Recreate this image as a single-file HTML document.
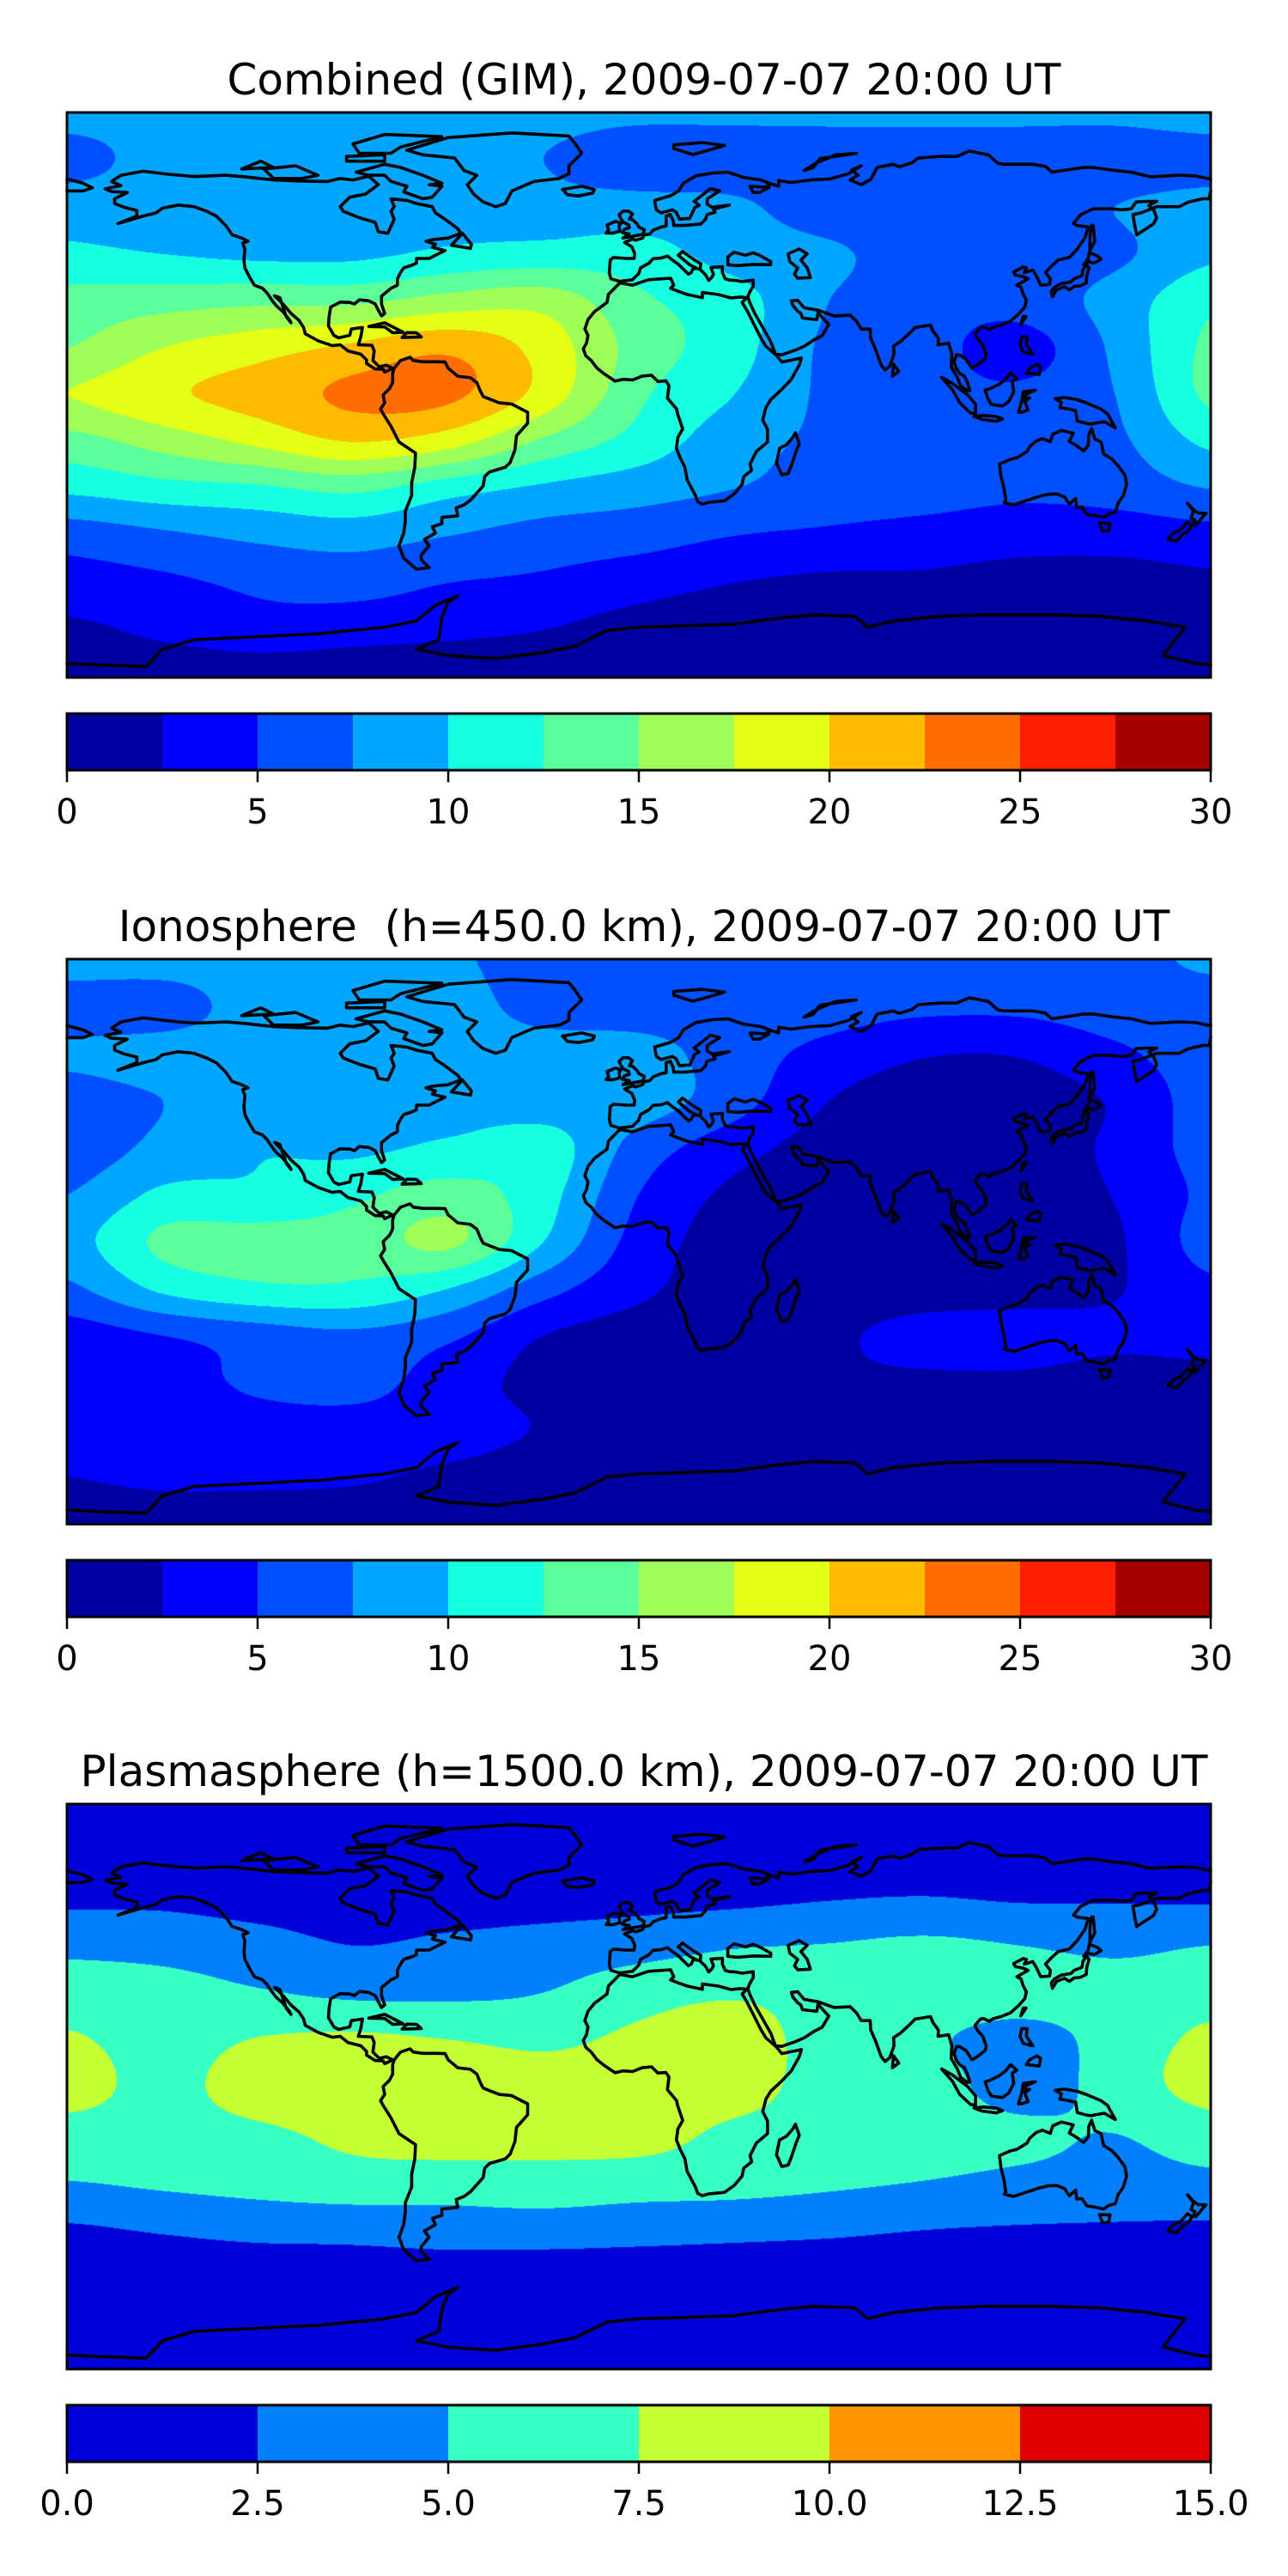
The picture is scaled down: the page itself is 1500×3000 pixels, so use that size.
<!DOCTYPE html>
<html><head><meta charset="utf-8">
<style>
html,body{margin:0;padding:0;background:#fff;}
body{width:1500px;height:3000px;position:relative;overflow:hidden;font-family:"DejaVu Sans","Liberation Sans",sans-serif;}
.title{position:absolute;left:0;width:1500px;text-align:center;font-size:50px;line-height:1;color:#000;white-space:pre;}
canvas{position:absolute;}
svg{position:absolute;left:0;top:0;}
</style></head>
<body>
<div class="title" style="top:68px">Combined (GIM), 2009-07-07 20:00 UT</div>
<div class="title" style="top:1054px">Ionosphere  (h=450.0 km), 2009-07-07 20:00 UT</div>
<div class="title" style="top:2038px">Plasmasphere (h=1500.0 km), 2009-07-07 20:00 UT</div>
<canvas id="c0" width="1332" height="658" style="left:78px;top:131px"></canvas>
<canvas id="c1" width="1332" height="658" style="left:78px;top:1117px"></canvas>
<canvas id="c2" width="1332" height="658" style="left:78px;top:2101px"></canvas>
<svg id="ov" width="1500" height="3000"></svg>
<script>
const lonGrid=[-180,-150,-120,-90,-60,-30,0,30,60,90,120,150,180];
const latGrid=[90,75,60,45,30,15,0,-15,-30,-45,-60,-75,-90];
const combinedValues=[
[8.5,8.5,8.5,8.5,8.5,8.3,8,8,8,8,8,8,8.5],
[6.5,8.5,8.5,8.5,8.5,7.5,6,6,6,6,6,6,6.5],
[9,9,9,9,9,8.5,8.5,8,6,5.5,6,7.5,8.5],
[10.5,10,9.5,9.5,10.5,11,11,9,8,6,6,7,9.5],
[13.5,14,14.5,14.5,16,16.5,13,11,7.5,6,6,8.5,12],
[15,17.5,19,20.5,22,19,14,11,7,6,4,8,13],
[17.5,19.5,21,23,23,19,13,10,7,6,5.5,7.5,13],
[14,16,18,20,18.5,14.5,11.5,8.5,7,6,6,7,10.5],
[10.5,11.5,12,13,11,9.5,8.5,7.5,6.5,6,5.5,6,7.5],
[6,7,8,8.5,7.5,6.5,6,5,4.5,4,3.5,3.5,4],
[4,4.5,5.5,6,5,4.5,3.5,2.5,2,2,1.5,1.5,2],
[2,3,4,3.5,3,2.5,1.5,1,1,1,1,1,1],
[1,1,1,1,1,1,1,1,1,1,1,1,1]];
const ionoValues=[
[8.7,8.7,8.7,8.7,8,6.2,6.2,6.2,6.2,6.2,6.2,6.5,8],
[6.2,6.2,8.7,8.7,8.7,6.5,6.2,6.2,6,5.5,5.5,6.2,6.2],
[8,8.7,8.7,8.7,8.7,8.7,8.5,6.2,4.2,2.7,2.7,4.5,6.2],
[6.2,7.5,8.7,8.7,8.7,8.7,8.7,6,2.5,1.2,1.2,2.8,6.2],
[6,8.2,9.8,9.5,10.5,11.2,6.5,3.5,1.5,1.2,1.2,3,6],
[7.5,10.5,10.5,12,13.5,11,5,2,1.2,1.2,1.5,2.6,5.5],
[9,13,13.5,13.5,15.5,10,4,1.5,1.2,1.2,1.5,2.2,6],
[7,10.5,12,12,10,6,3,1.5,1.2,1.2,1.5,2.3,4.5],
[3.8,5,6.2,7,5.5,2.5,1.5,1.3,2,3.5,3.7,3,3.7],
[3.7,3.8,5.5,6,3.7,1.8,1.5,1.3,2,2,2,1.5,1.5],
[3.5,3.7,3.8,3.8,3.7,2.3,1.2,1.2,1.2,1.2,1.2,1.2,1.2],
[2.5,3,3,2.8,2,1.2,1.2,1.2,1.2,1.2,1.2,1.2,1.2],
[1.2,1.2,1.2,1.2,1.2,1.2,1.2,1.2,1.2,1.2,1.2,1.2,1.2]];
const plasmaValues=[
[1.2,1.2,1.2,1.2,1.2,1.2,1.2,1.2,1.2,1.2,1.2,1.2,1.2],
[1.2,1.2,1.2,1.2,1.2,1.2,1.2,1.2,1.2,1.2,1.2,1.2,1.2],
[2,2,1.5,1.2,1.3,1.5,1.8,2,2.4,2.6,2.3,2.3,2.2],
[4.5,4.2,3.5,2.5,3,3.5,4,4.8,5.1,5.5,5,4.5,5],
[6,5.8,5.2,4.5,4.5,5,6.5,7.2,6.5,6.5,6.2,6,6.5],
[7.8,6.5,7.6,8,7.5,7,8,8.5,6.5,5.5,4,6,8],
[8.5,6.8,8.8,9.9,9.6,8.7,8.8,8.5,6.5,6.2,4,6,8.5],
[6.5,6.5,7,8.2,9,8.5,8.5,7,6.5,6.2,5.5,5,6.2],
[5,5.5,6,6.5,6.2,6.5,6.2,6,5.5,5,4.5,4.2,4.5],
[2.3,2.8,3.3,3.5,3.9,3.9,3.6,3.3,3,2.6,2.4,2.3,2.2],
[1.2,1.2,1.2,1.2,1.2,1.2,1.2,1.2,1.2,1.2,1.2,1.2,1.2],
[1.2,1.2,1.2,1.2,1.2,1.2,1.2,1.2,1.2,1.2,1.2,1.2,1.2],
[1.2,1.2,1.2,1.2,1.2,1.2,1.2,1.2,1.2,1.2,1.2,1.2,1.2]];
const jetColors=["#0000a0","#0000ff","#0050ff","#00a6ff","#16ffe1","#5aff9c","#a0ff57","#e4ff13","#fdbb00","#ff6c00","#ff1e00","#a70000"];
const plasmaColors=["#0000d8","#0080ff","#38ffc4","#c4ff33","#ff9400","#dd0000"];
const jetTicks=["0","5","10","15","20","25","30"];
const plasmaTicks=["0.0","2.5","5.0","7.5","10.0","12.5","15.0"];

const MAP_L=78,MAP_W=1332,MAP_H=658;
const maps=[
 {canvas:"c0",top:131,values:combinedValues,colors:jetColors,vmax:30,ticks:jetTicks,name:"combined"},
 {canvas:"c1",top:1117,values:ionoValues,colors:jetColors,vmax:30,ticks:jetTicks,name:"ionosphere"},
 {canvas:"c2",top:2101,values:plasmaValues,colors:plasmaColors,vmax:15,ticks:plasmaTicks,name:"plasmasphere"}];

function cr(p0,p1,p2,p3,t){return 0.5*((2*p1)+(-p0+p2)*t+(2*p0-5*p1+4*p2-p3)*t*t+(-p0+3*p1-3*p2+p3)*t*t*t);}
function interpRow(row,u){const n=row.length;let i=Math.floor(u);if(i>=n-1)i=n-2;const t=u-i;
 const g=k=>row[Math.max(0,Math.min(n-1,k))];return cr(g(i-1),g(i),g(i+1),g(i+2),t);}
function hexRGB(h){return [parseInt(h.substr(1,2),16),parseInt(h.substr(3,2),16),parseInt(h.substr(5,2),16)];}
maps.forEach(m=>{
 const cv=document.getElementById(m.canvas),ctx=cv.getContext('2d');
 const img=ctx.createImageData(MAP_W,MAP_H);const d=img.data;
 const nLon=lonGrid.length,nLat=latGrid.length;
 const rows=m.values.map(r=>{const a=new Float32Array(MAP_W);for(let x=0;x<MAP_W;x++){a[x]=interpRow(r,x/(MAP_W-1)*(nLon-1));}return a;});
 const cols=m.colors.map(hexRGB);const nb=cols.length,step=m.vmax/nb;
 for(let y=0;y<MAP_H;y++){const v=y/(MAP_H-1)*(nLat-1);let i=Math.floor(v);if(i>=nLat-1)i=nLat-2;const t=v-i;
  const r0=rows[Math.max(0,i-1)],r1=rows[i],r2=rows[i+1],r3=rows[Math.min(nLat-1,i+2)];
  for(let x=0;x<MAP_W;x++){const val=cr(r0[x],r1[x],r2[x],r3[x],t);let b=Math.floor(val/step);if(b<0)b=0;if(b>nb-1)b=nb-1;
   const c=cols[b],o=(y*MAP_W+x)*4;d[o]=c[0];d[o+1]=c[1];d[o+2]=c[2];d[o+3]=255;}}
 ctx.putImageData(img,0,0);
});

const coasts={
"north-america":[[-166,68],[-163,70],[-156,71.3],[-148,70.3],[-140,69.6],[-130,70],[-124,69.5],[-115,68.5],[-108,68.2],[-98,68],[-94,69],[-90,68.5],[-85,69.7],[-82,67],[-86,64],[-91,63],[-94,60],[-93,58.5],[-88,56.5],[-83,55],[-82,52],[-79,51.5],[-77,56],[-78,58.5],[-77,60],[-78,62.5],[-73,62],[-70,61],[-65,60],[-64,58],[-61,56],[-57,53],[-56,51.5],[-60,50],[-65,49.5],[-67,49],[-64,48],[-65,47],[-61,46],[-64,44.5],[-66,43.5],[-70,43.5],[-70,42],[-71.5,41.3],[-74,40.5],[-75,39],[-76,37],[-76,35],[-78,34],[-81,31.5],[-81,29],[-80,26],[-81,25.2],[-82,27],[-83,29],[-85,30],[-88,30.3],[-89.5,29],[-91,29.5],[-94,29.6],[-97,28],[-97.5,25],[-97.7,22],[-96,19],[-94.5,18.2],[-91,19],[-90.5,21],[-87,21.5],[-87.5,18.5],[-88.3,16],[-84,15.8],[-83.3,14],[-83.7,11],[-81.7,9],[-79.5,9.5],[-77.5,8.5],[-78.5,8],[-80,7.3],[-80.5,8.2],[-83,8.3],[-85.7,10],[-85.7,11.2],[-87.5,13],[-91.5,14],[-94,16],[-96.5,15.7],[-101,17.3],[-105,19.5],[-105.5,21.5],[-107,23.8],[-109.5,26],[-112,29],[-114.7,31.6],[-113,31],[-111,25],[-109.5,23],[-110,24],[-112,26.5],[-114.2,28.5],[-115.7,30.5],[-117,32.5],[-118.5,34],[-121,35],[-122.5,37.5],[-124,40.5],[-124.3,43],[-124,46.5],[-124.7,48.4],[-123,49],[-125,50],[-128,51],[-130,54],[-133,57],[-136,58.5],[-140,60],[-145,60.5],[-150,59.5],[-152,58],[-156,57],[-160,55.8],[-164,54.6],[-158,57],[-158,58.8],[-162,59.8],[-165,61],[-165,62.5],[-161,64.5],[-166,64.8],[-168,65.7],[-163,66.7],[-166,68]],
"greenland":[[-73,78],[-60,82],[-40,83.5],[-22,82.5],[-20,80],[-18,77],[-22,73],[-22,70.5],[-25,69],[-33,68],[-40,65],[-42,61],[-45,60],[-49,61.5],[-52,64],[-54,67],[-51,70],[-55,71.5],[-58,75.5],[-68,76.5],[-73,78]],
"baffin":[[-62,66.5],[-66,67],[-62,67.5],[-68,70],[-75,72.5],[-80,73.5],[-89,71],[-85,70],[-80,70],[-78,68],[-73,66.5],[-74,64.7],[-68,62.5],[-65,63],[-62,66.5]],
"ellesmere":[[-90,80],[-80,83],[-62,82.3],[-75,79],[-78,77],[-88,77],[-90,80]],
"victoria":[[-118,72],[-108,73],[-101,70],[-106,69],[-115,69],[-118,72]],
"banks":[[-125,72],[-119,74.5],[-115,72.5],[-125,72]],
"devon":[[-92,76],[-80,76.5],[-80,74.5],[-92,74.5],[-92,76]],
"newfoundland":[[-59,47.7],[-53,46.7],[-52.7,48],[-55.5,51.5],[-59,47.7]],
"cuba":[[-85,21.8],[-80,23],[-74.2,20],[-77.5,19.8],[-80,21.7],[-85,21.8]],
"hispaniola":[[-74.5,18.3],[-68.5,18.5],[-70,19.8],[-73,19.9],[-74.5,18.3]],
"iceland":[[-24,65.5],[-18,66.5],[-14,65.5],[-14.5,64.3],[-19,63.4],[-22.5,63.8],[-24,65.5]],
"south-america":[[-77,8.5],[-75,11],[-72,12],[-71,11],[-68,10.6],[-64,10.6],[-61,10.5],[-60,8.5],[-57,6],[-53,5.5],[-51,4],[-50,1.5],[-49,-0.5],[-44,-2.5],[-40,-2.9],[-35,-5.5],[-35,-9],[-38.5,-13],[-39,-17.5],[-40.5,-21.5],[-42,-23],[-47,-24.5],[-48.5,-26],[-49,-29],[-53,-33.5],[-55,-35],[-57.5,-36],[-57,-38.5],[-62,-39],[-62,-41],[-65,-42],[-64,-44],[-67.5,-46],[-66,-48],[-68.5,-51],[-68.5,-52.5],[-66,-55],[-70,-55.5],[-74,-52],[-75.5,-48],[-74,-44],[-73.5,-40],[-73.5,-37],[-71.5,-32],[-71.5,-28],[-70.5,-23],[-70.3,-18.5],[-75.5,-15],[-78,-10],[-80.5,-6],[-81.3,-4.5],[-80,-2.5],[-80.5,0],[-78.5,2],[-77.5,4],[-77.5,7],[-77,8.5]],
"africa":[[-17,21],[-16,24],[-14,26.5],[-10,29.5],[-9.6,32],[-6,35.7],[-2,35],[3,36.7],[10,37.2],[11,35],[10,34],[12.5,33],[15.3,32],[20,31],[20,32.7],[25,32],[29,30.9],[32,31.2],[34,31],[32.5,29.5],[34,27],[35.5,24],[37,21],[38.5,18],[40,15.5],[43.3,12.6],[45,10.5],[51.2,11.8],[50.5,9.5],[48,5],[45,1.8],[41.5,-1.5],[40,-4],[39,-8],[40.5,-11],[40.5,-15],[37,-18],[35,-22],[35.5,-24],[33,-26],[32.5,-28.5],[30,-31.5],[27,-33.7],[22,-34.2],[20,-34.8],[18.5,-34],[17.8,-32],[15.2,-27],[14.5,-23],[13,-20],[11.8,-17],[12.3,-13.5],[13.8,-10.8],[12.2,-6],[11.9,-4.5],[9,-1],[9.5,3],[8.5,4.5],[6,4.3],[4,6.3],[1,6],[-2,4.8],[-5,5],[-7.5,4.4],[-11,6.8],[-13.2,8.6],[-15,11],[-16.7,12.5],[-17.5,14.7],[-16.5,16.5],[-16,19],[-17,21]],
"madagascar":[[49.3,-12],[50.5,-15.5],[49.5,-18],[48,-22.5],[47,-25],[45,-25.5],[43.7,-22.5],[43.3,-21.8],[44.3,-17],[46.5,-15.8],[48.5,-13.5],[49.3,-12]],
"europe-asia":[[-9,43],[-9.3,39],[-8.8,37],[-6,36.2],[-2,36.7],[0,38.7],[0.5,40.5],[3.2,42],[4.5,43.4],[7,43.6],[9,44.3],[10.5,43],[12.3,41.8],[15.6,38.5],[16.5,39],[17.2,40.5],[18.5,40.2],[16,41.5],[13.6,43.5],[12.4,44.5],[13.7,45.7],[15,44.8],[17.5,43],[19.5,41.8],[19.3,40],[21,38.3],[22,36.5],[23,37.5],[23.5,38.5],[22.7,40.6],[24.8,40.8],[26.3,40.9],[26.3,39],[27.2,37],[28.5,36.6],[30.5,36.5],[32.5,36.1],[36,36.6],[36,34.7],[35,33],[34.3,31.3],[34.9,29.5],[36.5,26],[39,21.5],[41.5,17],[43,13],[45,12.8],[49,14.2],[52.2,15.6],[55,17.5],[57.7,18.9],[59.8,22.5],[58.7,23.6],[56.4,26.2],[56,24],[54,24.2],[51.5,24.5],[51,26],[50,26.7],[48.5,28.5],[48,30],[50,30.2],[52,27.8],[56.5,27],[61.5,25.2],[66.5,25.4],[68.5,23.5],[70,21],[72.8,21],[73,18],[74.5,14.5],[76.3,9.5],[77.5,8],[79,9.2],[80.3,13],[80.2,15.6],[82.3,17],[85,19.5],[87,21.5],[90,22],[91.8,22.3],[92.5,20.5],[94.3,18],[94.2,16],[97.5,16.5],[98.5,13],[98.3,9],[100.3,5.5],[101.3,2.9],[103.5,1.3],[104.2,1.4],[103.4,4],[102.5,6],[101,6.9],[100,8.3],[99.2,10.5],[100,12.8],[101,12.7],[103,11.5],[104.8,8.6],[106.5,9.5],[109,11.5],[109.3,13],[108.3,16],[106.5,18],[105.8,19.5],[107.5,21.5],[108.5,21.7],[110.3,20.8],[111.5,21.6],[114,22.3],[117,23.5],[119.5,25.8],[121.5,28],[122,30.2],[121,32],[120.3,34.3],[119,35],[122.5,37],[121,37.7],[118.5,38.2],[118,39.2],[121,40.8],[122,40.5],[121.3,39],[124,39.8],[125.2,37.8],[126.5,35],[129.3,35.2],[129.5,37],[128,39],[129.8,41],[132,43],[135.5,43.8],[138,46.5],[140.5,50.2],[141,52],[141.5,53.5],[138,54],[136.8,54.6],[139,57.4],[143,59.3],[148,59.4],[152,59],[155,59.3],[156.5,61.5],[160,61.7],[163,61.7],[160.5,60.4],[162,59],[163,56.5],[162,54.5],[156.7,51],[156,54.5],[155.5,57.5],[158,58],[163,60],[166,60],[170,60],[173,61.5],[177.5,62.5],[179.5,62.5],[180,65]],
"siberia-north":[[180,68.8],[175,69.8],[170,70],[161,69.5],[155,71],[150,71.5],[143,72.5],[140,72.5],[130,71],[128,72.8],[124,73.5],[115,73.5],[113,73.8],[110,76.5],[104,77.7],[100,76],[95,76],[88,75.5],[86,74],[82,72.7],[80,73.5],[75,72.5],[73,68.7],[70,67],[66.5,68.5],[69,70],[67,71.7],[70,73],[66,70.5],[60,68.8],[54,68.5],[48,67.7],[44,68.3],[44,66.5],[40.5,67.6],[41,66.2],[38,64.5],[36,64.5],[35,66.5],[40,66.2],[41,67.5],[38.5,68.5],[33,69.3],[28,71],[23,70.7],[18,69.8],[14,67.5],[12.5,65],[10,63.5],[5,62],[5.5,59],[7,58],[10.5,59],[11.7,58.3],[12.8,56],[14.5,56.2],[16,56.2],[16.6,57.5],[17.6,59.7],[19,60.4],[17.4,61.7],[21,64.5],[22.5,65.8],[25.5,65],[21.5,62.5],[21.5,60.8],[23,59.8],[28.5,60.5],[23.5,59.2],[24,58.2],[21.5,57.5],[21,56],[19.5,54.5],[14.5,54],[11,54],[10.8,55.5],[9.9,57.5],[8.6,57],[8.6,55],[8.6,53.8],[7,53.5],[4.5,52.5],[3.5,51.3],[1.6,50.9],[1.2,50],[-1,49.3],[-1.9,49.7],[-4.5,48.6],[-2.2,47.2],[-1.3,45],[-1.5,43.5],[-4,43.5],[-8,43.8],[-9,43]],
"chukotka":[[-180,68.8],[-175,67.5],[-172,66],[-175,65],[-180,65]],
"great-britain":[[-5,50],[1.4,51.2],[1.7,52.7],[0,53.5],[-0.5,54.5],[-2,55.9],[-3,56],[-2,57.7],[-3.3,58.6],[-5,58.6],[-6.2,57.4],[-5.6,56],[-4.8,55],[-3.2,54.2],[-3,53.3],[-4.5,52.8],[-5.2,51.7],[-3,51.3],[-5,50]],
"ireland":[[-6,52.2],[-6.2,54],[-5.6,54.7],[-7.3,55.3],[-10,54.2],[-9.5,52.6],[-10.3,51.6],[-8,51.6],[-6,52.2]],
"black-sea":[[28,41.5],[31,41.2],[36,41.6],[41.5,41.5],[41.5,42.5],[38,44.5],[36,45.3],[33.5,44.5],[30,45.5],[28,44],[28,41.5]],
"caspian":[[47,45],[50.5,46.5],[53,45],[51,43],[53,40.5],[54,37.4],[50,37.2],[49,38.5],[50,40.5],[47.5,42.5],[47,45]],
"honshu":[[130.2,31.3],[131.5,33.5],[134,34.5],[135.5,33.5],[137,34.6],[139,34.8],[140.8,35.7],[141,38],[141.7,40.5],[141,41.5],[139.8,40],[139.5,38],[137,37],[136,36],[133,35.5],[130.8,34.3],[129.8,33],[130.2,31.3]],
"hokkaido":[[140,41.5],[141.5,42.5],[143.3,42],[145.5,43.3],[144.5,44.2],[141.8,45.4],[141.4,43.3],[140,41.5]],
"sakhalin":[[142,46],[143.5,49],[143,54],[142.5,54],[142,51],[142,46]],
"taiwan":[[120.2,22.5],[121.9,25],[121,25],[120.2,22.5]],
"luzon":[[120,16],[120.5,18.5],[122.2,18.5],[122,16],[124,13],[121,13.7],[120,16]],
"mindanao":[[122,7],[126,6.5],[126.5,9],[125.3,9.8],[123,8.5],[122,7]],
"borneo":[[109,1.5],[110,-1.5],[111,-3],[114.5,-3.5],[116.5,-2],[118,1],[117.5,4.3],[119,5.2],[117,7],[115.5,5],[113.5,3.5],[110.5,2],[109,1.5]],
"sumatra":[[95.3,5.6],[98.5,3.8],[103.5,0],[106,-3],[106,-5.8],[104.5,-5.8],[101,-2.5],[98.7,1.7],[95.3,5.6]],
"java":[[105.5,-6.8],[108.5,-6.5],[112.5,-6.9],[114.5,-7.7],[112.5,-8.4],[108,-7.8],[105.5,-6.8]],
"sulawesi":[[119.5,-5.5],[120.5,-2],[121,1],[124.8,1.5],[122,0.3],[121.2,-1],[123,-0.9],[121.5,-2],[122.5,-4.8],[120.5,-5.5],[119.5,-5.5]],
"new-guinea":[[131,-1.2],[134,-0.8],[138,-1.5],[141,-2.6],[145.5,-4.5],[147.5,-6],[150,-10.5],[146.5,-8.5],[143.5,-9],[142.5,-9.3],[141,-9.1],[138,-8.3],[137.5,-5],[135,-4.4],[132.5,-4],[133,-2.3],[131,-1.2]],
"australia":[[113.5,-22],[114,-26],[115,-30],[115.5,-33.5],[115,-34.3],[118,-35],[121.5,-33.8],[124,-33],[126,-32.3],[129,-31.6],[131.5,-31.5],[134,-32.5],[135.5,-34.8],[137.5,-33],[137.8,-35.8],[139.5,-35.7],[141,-38],[144,-38.5],[146.3,-39],[148,-37.8],[150,-37.3],[150.8,-34.5],[152.5,-32],[153.5,-28.5],[153,-25.5],[150.8,-22.5],[149,-20.5],[146.3,-18.8],[145.5,-15],[143.5,-14],[142.5,-10.7],[141.6,-12.8],[141.5,-16],[140,-17.8],[137.5,-16],[135.5,-14.8],[136.7,-12.2],[133,-11.3],[130.3,-12.5],[129.5,-14.9],[127,-13.9],[125,-14.7],[123,-16.5],[122.2,-18],[119,-20],[116.7,-20.6],[113.5,-22]],
"tasmania":[[145,-40.8],[148.3,-40.9],[147.9,-43.2],[146,-43.5],[145,-40.8]],
"nz-north":[[172.7,-34.5],[174.5,-36.5],[176,-37.6],[178.5,-37.7],[177.2,-39.2],[175.3,-41.5],[174.6,-41.2],[175,-39.8],[173.8,-39.2],[174.6,-37],[172.7,-34.5]],
"nz-south":[[172.7,-40.5],[174.2,-41.5],[172.8,-43.4],[171,-44.5],[169.3,-46.6],[166.5,-46],[168.3,-44],[170.5,-43],[172.7,-40.5]],
"sri-lanka":[[79.8,6],[81.8,7.5],[80.2,9.8],[79.8,6]],
"svalbard":[[11,78.5],[17,76.6],[22,78],[27,79.5],[20,80.4],[11,79.7],[11,78.5]],
"novaya-zemlya":[[52,71.5],[56,74],[62,76.5],[68.5,77],[57,75.3],[55,72.5],[52,71.5]],
"antarctica":[[-180,-85.5],[-170,-86],[-155,-86.5],[-150,-81],[-140,-78],[-120,-77],[-100,-76],[-80,-74],[-70,-72],[-64,-67],[-57,-64],[-60,-66],[-62,-71],[-63,-78],[-70,-81],[-60,-83],[-45,-84],[-30,-82],[-20,-80],[-10,-75],[0,-74],[15,-73.5],[30,-73],[45,-71],[55,-70],[68,-70.5],[72,-74],[80,-72],[95,-70.5],[110,-70],[130,-70],[145,-70.5],[160,-72],[172,-74],[168,-79],[165,-83],[175,-85.5],[180,-86]]
};

const NS="http://www.w3.org/2000/svg";
const ov=document.getElementById('ov');
function mk(tag,attrs){const e=document.createElementNS(NS,tag);for(const k in attrs)e.setAttribute(k,attrs[k]);return e;}
maps.forEach((m,mi)=>{
 const xOf=lon=>MAP_L+(lon+180)/360*MAP_W;
 const yOf=lat=>m.top+(90-lat)/180*MAP_H;
 const g=mk('g',{});
 
 
 for(const key in coasts){
  const pts=coasts[key].map(p=>xOf(p[0]).toFixed(1)+','+yOf(p[1]).toFixed(1)).join(' ');
  const pl=mk('polyline',{points:pts,fill:'none',stroke:'#000','stroke-width':'3.6','stroke-linejoin':'round','stroke-linecap':'round'});
  
  
  g.appendChild(pl);
 }
 ov.appendChild(g);
 const frame=mk('rect',{x:MAP_L,y:m.top,width:MAP_W,height:MAP_H,fill:'none',stroke:'#000','stroke-width':'3'});
 
 
 ov.appendChild(frame);
 const cbTop=m.top+MAP_H+42,cbH=66,n=m.colors.length;
 const cb=mk('g',{});
 
 
 const segW=MAP_W/n;
 m.colors.forEach((c,i)=>{
  const r=mk('rect',{x:MAP_L+i*segW,y:cbTop,width:segW+0.6,height:cbH,fill:c});
  
  
  cb.appendChild(r);
 });
 const cf=mk('rect',{x:MAP_L,y:cbTop,width:MAP_W,height:cbH,fill:'none',stroke:'#000','stroke-width':'3'});
 
 
 cb.appendChild(cf);
 const nt=m.ticks.length;
 m.ticks.forEach((t,i)=>{
  const x=MAP_L+i/(nt-1)*MAP_W;
  const tk=mk('line',{x1:x,x2:x,y1:cbTop+cbH,y2:cbTop+cbH+14,stroke:'#000','stroke-width':'2.5'});
  
  
  cb.appendChild(tk);
  const tx=mk('text',{x:x,y:cbTop+cbH+62,'text-anchor':'middle','font-size':'40','font-family':'DejaVu Sans, Liberation Sans, sans-serif',fill:'#000'});
  tx.textContent=t;
  
  
  cb.appendChild(tx);
 });
 ov.appendChild(cb);
});
</script>
</body></html>
